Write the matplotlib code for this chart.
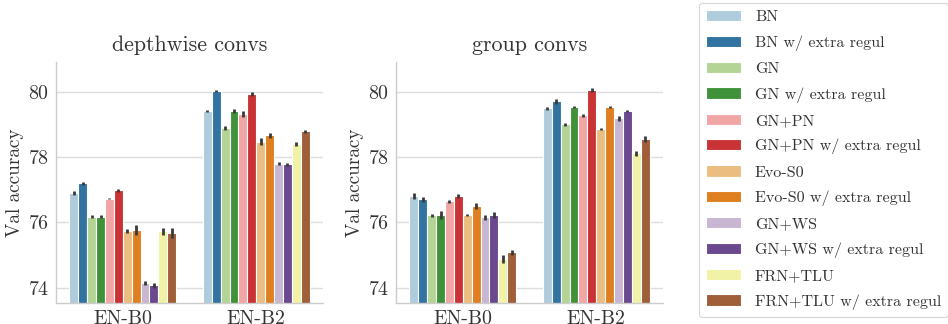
import matplotlib
matplotlib.use("Agg")
import matplotlib.pyplot as plt
import numpy as np
import colorsys

models = ["EN-B0", "EN-B2"]
methods = ["BN", "BN w/ extra regul", "GN", "GN w/ extra regul", "GN+PN",
           "GN+PN w/ extra regul", "Evo-S0", "Evo-S0 w/ extra regul", "GN+WS",
           "GN+WS w/ extra regul", "FRN+TLU", "FRN+TLU w/ extra regul"]

# depthwise convs: values per method for [EN-B0, EN-B2]
dw_b0 = [76.90, 77.19, 76.17, 76.17, 76.73, 76.98, 75.73, 75.77, 74.14, 74.07, 75.72, 75.67]
dw_b2 = [79.41, 80.02, 78.89, 79.41, 79.32, 79.94, 78.47, 78.67, 77.80, 77.78, 78.39, 78.79]
dw_b0_err = [0.05, 0.06, 0.05, 0.05, 0.03, 0.05, 0.07, 0.15, 0.06, 0.07, 0.12, 0.15]
dw_b2_err = [0.04, 0.03, 0.05, 0.06, 0.09, 0.06, 0.10, 0.08, 0.04, 0.05, 0.06, 0.04]

# group convs
gc_b0 = [76.81, 76.70, 76.22, 76.22, 76.64, 76.81, 76.22, 76.50, 76.15, 76.22, 74.87, 75.08]
gc_b2 = [79.49, 79.71, 79.00, 79.53, 79.28, 80.06, 78.86, 79.52, 79.18, 79.41, 78.11, 78.55]
gc_b0_err = [0.09, 0.09, 0.05, 0.12, 0.04, 0.05, 0.03, 0.10, 0.08, 0.09, 0.12, 0.07]
gc_b2_err = [0.04, 0.08, 0.04, 0.04, 0.05, 0.06, 0.04, 0.03, 0.07, 0.04, 0.07, 0.08]

titles = ["depthwise convs", "group convs"]
panels = [(dw_b0, dw_b2, dw_b0_err, dw_b2_err), (gc_b0, gc_b2, gc_b0_err, gc_b2_err)]

plt.rcParams["font.family"] = ["cmr10", "DejaVu Serif"]
plt.rcParams["axes.formatter.use_mathtext"] = True
text_color = "#333333"
plt.rcParams["text.color"] = text_color
plt.rcParams["axes.labelcolor"] = text_color
plt.rcParams["xtick.color"] = text_color
plt.rcParams["ytick.color"] = text_color


def desat(c, prop=0.75):
    h, l, s = colorsys.rgb_to_hls(*c[:3])
    return colorsys.hls_to_rgb(h, l, s * prop)


colors = [desat(c) for c in plt.get_cmap("Paired").colors]

fig = plt.figure(figsize=(9.48, 3.24), dpi=100)
axes_pos = [[56/948, 1-303/324, 267/948, 241/324], [396/948, 1-303/324, 267/948, 241/324]]

n = len(methods)
bw = 0.8 / n
x = np.arange(len(models))
handles = []
for pi, (pos, title, data) in enumerate(zip(axes_pos, titles, panels)):
    ax = fig.add_axes(pos)
    b0, b2, e0, e2 = data
    for i, m in enumerate(methods):
        xs = x - 0.4 + bw * (i + 0.5)
        vals = [b0[i], b2[i]]
        errs = [e0[i], e2[i]]
        bars = ax.bar(xs, vals, width=bw, color=colors[i], edgecolor="white",
                      linewidth=0.8, label=m, zorder=2)
        ax.errorbar(xs, vals, yerr=errs, fmt="none", ecolor="#3a3a3a",
                    elinewidth=2.0, capsize=0, zorder=3)
        if pi == 0:
            handles.append(bars)
    ax.set_xlim(-0.5, 1.5)
    ax.set_ylim(73.53, 80.91)
    ax.set_yticks([74, 76, 78, 80])
    ax.set_xticks(x)
    ax.set_xticklabels(models)
    ax.tick_params(axis="both", labelsize=14.3, length=0, pad=5)
    ax.yaxis.grid(True, color="#dddddd", linewidth=1.0, zorder=0)
    ax.set_axisbelow(True)
    for s in ["top", "right"]:
        ax.spines[s].set_visible(False)
    for s in ["left", "bottom"]:
        ax.spines[s].set_color("#cccccc")
        ax.spines[s].set_linewidth(1.0)
    ax.set_title(title, fontsize=15.8, pad=8, color=text_color)
    ax.set_ylabel("Val accuracy", fontsize=13.8, labelpad=3)

leg = fig.legend(handles, methods, loc="upper left", bbox_to_anchor=(699/948, 1-3/324),
                 borderaxespad=0, fontsize=11.5, handlelength=2.2, handleheight=0.7,
                 labelspacing=0.69, borderpad=0.45, handletextpad=0.85,
                 frameon=True, fancybox=True)
leg.get_frame().set_edgecolor("#cccccc")
leg.get_frame().set_linewidth(0.8)

fig.savefig("out.png", dpi=100)
